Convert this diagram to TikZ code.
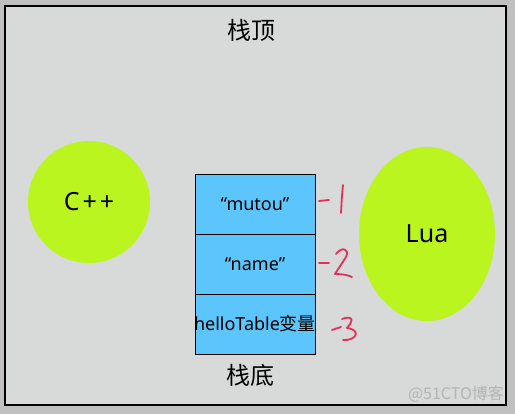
\documentclass[tikz,border=0pt]{standalone}
\usepackage{fontspec}
\setmainfont{Noto Sans}
\newfontfamily\cjk{Noto Sans CJK SC}
\usetikzlibrary{shapes.geometric, positioning}
\definecolor{framegray}{HTML}{C0C0C0}
\definecolor{canvasgray}{HTML}{D8D9D9}
\definecolor{cellblue}{HTML}{5CC6FC}
\definecolor{limegreen}{HTML}{BBF520}
\definecolor{inkred}{HTML}{E62E5C}
\definecolor{markgray}{HTML}{B4B4B4}

\begin{document}
\begin{tikzpicture}[x=1pt, y=-1pt,
  cell/.style={rectangle, draw=black, fill=cellblue, minimum width=120pt, minimum height=60pt, inner sep=0pt, outer sep=0pt, font=\fontsize{18}{18}\selectfont},
  lang/.style={fill=limegreen, inner sep=0pt, font=\fontsize{25}{25}\selectfont},
  caption/.style={font=\cjk\fontsize{24}{24}\selectfont},
  ink/.style={draw=inkred, line width=1.8pt, line cap=round, line join=round}
]
  % Frame
  \fill[framegray] (0,0) rectangle (515,414);
  \useasboundingbox (0,0) rectangle (515,414);
  \draw[fill=canvasgray, line width=1.5pt] (5,6) rectangle (506,405);

  % Stack
  \node[cell] (top) at (255,204) {“mutou”};
  \node[cell, below=0pt of top] (mid) {“name”};
  \node[cell, below=0pt of mid] (bot) {\makebox[0pt]{hello\-Table{\cjk 变量}}};
  \node[caption] (stacktop) at (251,30) {栈顶};
  \node[caption] (stackbot) at (250,375) {栈底};

  % Languages
  \node[lang, circle, minimum size=122pt] (cpp) at (89,202) {C\kern3pt+\kern3pt+};
  \node[lang, ellipse, minimum width=136pt, minimum height=174pt] (lua) at (427,234) {Lua};

  % Index marks
  \draw[ink] (319,201) -- (329,200);
  \draw[ink] (343,185) .. controls (342,195) .. (341,213);
  \draw[ink] (319,263) -- (329,263);
  \draw[ink] (336,254) .. controls (342,246) and (350,249) .. (346,257) -- (335,274) .. controls (342,274) and (348,275) .. (352,277);
  \draw[ink] (332,330) -- (341,327);
  \draw[ink] (342,319) .. controls (350,316) and (356,318) .. (347,328) .. controls (362,330) and (356,341) .. (343,340);

  % Watermark
  \node[text=markgray, font=\cjk\fontsize{16}{16}\selectfont] (mark) at (456,394) {@51CTO博客};
\end{tikzpicture}
\end{document}
